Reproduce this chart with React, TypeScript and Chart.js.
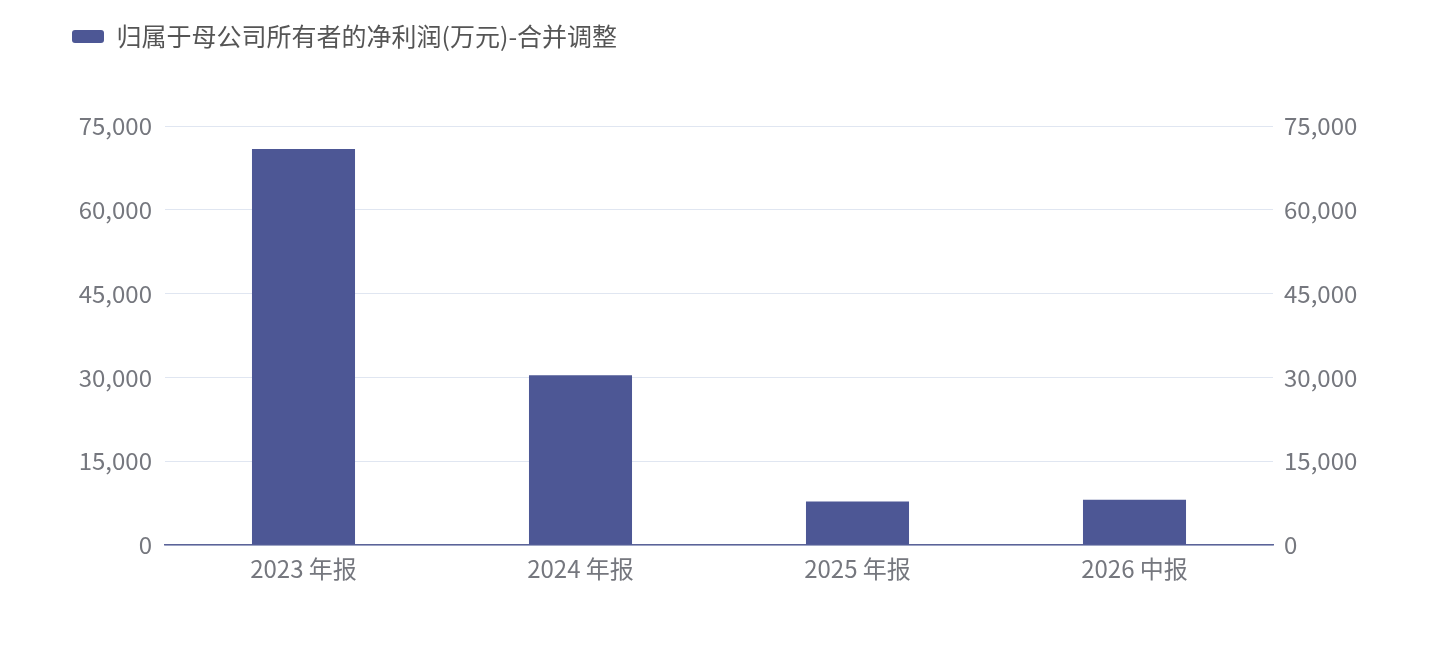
import React, { useEffect, useRef } from "react";
import { Chart, registerables } from "chart.js";

Chart.register(...registerables);

const categories = ["2023 年报", "2024 年报", "2025 年报", "2026 中报"];
const seriesName = "归属于母公司所有者的净利润(万元)-合并调整";
const netProfit = [70900, 30400, 7800, 8100];
const tickValues = [0, 15000, 30000, 45000, 60000, 75000];

const FONT = '"Noto Sans CJK SC", "Noto Sans", sans-serif';
const BAR_COLOR = "#4d5795";
const TICK_COLOR = "#75777e";

export default function App() {
  const ref = useRef<HTMLCanvasElement | null>(null);

  useEffect(() => {
    document.body.style.margin = "0";
    const canvas = ref.current;
    if (!canvas) return;

    const legendSpacer = {
      id: "legendSpacer",
      beforeInit(chart: any) {
        const legend = chart.legend;
        if (!legend) return;
        const origFit = legend.fit;
        legend.fit = function () {
          origFit.bind(legend)();
          this.height += 67;
        };
      },
    };

    const fmt = (v: any) => Number(v).toLocaleString("en-US");
    const fixedTicks = (scale: any) => {
      scale.ticks = tickValues.map((v) => ({ value: v }));
    };

    const chart = new Chart(canvas, {
      type: "bar",
      data: {
        labels: categories,
        datasets: [
          {
            label: seriesName,
            data: netProfit,
            backgroundColor: BAR_COLOR,
            borderWidth: 0,
            barPercentage: 0.372,
            categoryPercentage: 1,
            yAxisID: "y",
          },
        ],
      },
      options: {
        animation: false,
        responsive: false,
        maintainAspectRatio: false,
        devicePixelRatio: 1,
        layout: { padding: { left: 62, top: 14, right: 0, bottom: 0 } },
        plugins: {
          tooltip: { enabled: false },
          legend: {
            display: true,
            position: "top",
            align: "start",
            labels: {
              boxWidth: 32,
              boxHeight: 13,
              padding: 10,
              color: "#555555",
              font: { family: FONT, size: 25 },
              useBorderRadius: true,
              borderRadius: 3,
            },
          },
        },
        scales: {
          x: {
            grid: { display: false, drawTicks: false },
            border: { display: true, color: "#5b6398", width: 1.5 },
            ticks: {
              color: TICK_COLOR,
              font: { family: FONT, size: 24 },
              padding: 9,
            },
            afterFit(scale: any) {
              scale.height = 115;
            },
          },
          y: {
            position: "left",
            min: 0,
            max: 75000,
            afterBuildTicks: fixedTicks,
            grid: { color: "#e0e6f1", lineWidth: 1, drawTicks: false },
            border: { display: false },
            ticks: {
              color: TICK_COLOR,
              font: { family: FONT, size: 24 },
              padding: 13,
              callback: (v: any) => fmt(v),
            },
            afterFit(scale: any) {
              scale.width = 103;
            },
          },
          y2: {
            position: "right",
            min: 0,
            max: 75000,
            afterBuildTicks: fixedTicks,
            grid: { display: false, drawTicks: false },
            border: { display: false },
            ticks: {
              color: TICK_COLOR,
              font: { family: FONT, size: 24 },
              padding: 11,
              callback: (v: any) => fmt(v),
            },
            afterFit(scale: any) {
              scale.width = 166;
            },
          },
        },
      },
      plugins: [legendSpacer],
    } as any);

    return () => chart.destroy();
  }, []);

  return (
    <div style={{ width: 1439, height: 660, position: "relative", background: "#fff" }}>
      <canvas ref={ref} width={1439} height={660} style={{ display: "block" }} />
    </div>
  );
}
